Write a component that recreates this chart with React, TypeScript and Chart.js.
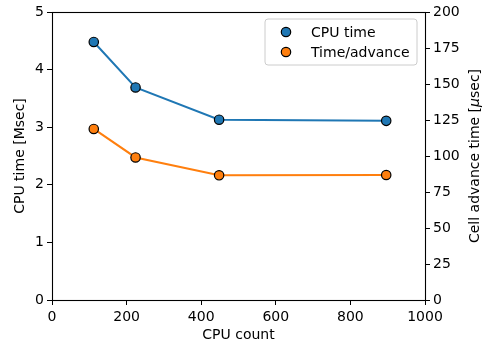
import React, { useEffect, useRef } from "react";
import { Chart, registerables } from "chart.js";

Chart.register(...registerables);

const cpuCounts = [112, 224, 448, 896];
const cpuTimeMsec = [4.48, 3.69, 3.13, 3.11];
const cellAdvanceUsec = [118.8, 99.0, 86.6, 86.8];
const legendLabels = ["CPU time", "Time/advance"];
const seriesColors = ["#1f77b4", "#ff7f0e"];

const FONT = "DejaVu Sans";

const framePlugin = {
  id: "frame",
  afterDatasetsDraw(chart: any) {
    const { ctx, chartArea: a } = chart;
    ctx.save();
    ctx.strokeStyle = "#000";
    ctx.lineWidth = 1.1;
    ctx.strokeRect(Math.round(a.left) + 0.5, Math.round(a.top) + 0.5, Math.round(a.right - a.left), Math.round(a.bottom - a.top));
    ctx.restore();
  },
  afterDraw(chart: any) {
    const { ctx, chartArea: a } = chart;
    // right axis title (reads bottom-to-top like matplotlib)
    ctx.save();
    ctx.translate(475, (a.top + a.bottom) / 2);
    ctx.rotate(-Math.PI / 2);
    ctx.fillStyle = "#000";
    ctx.textBaseline = "middle";
    const p1 = "Cell advance time [";
    const p2 = "\u03bc";
    const p3 = "sec]";
    ctx.font = `14px "${FONT}"`;
    const w1 = ctx.measureText(p1).width;
    const w3 = ctx.measureText(p3).width;
    ctx.font = `italic 14px "${FONT}"`;
    const w2 = ctx.measureText(p2).width;
    const total = w1 + w2 + w3;
    let x = -total / 2;
    ctx.textAlign = "left";
    ctx.font = `14px "${FONT}"`;
    ctx.fillText(p1, x, 0);
    x += w1;
    ctx.font = `italic 14px "${FONT}"`;
    ctx.fillText(p2, x, 0);
    x += w2;
    ctx.font = `14px "${FONT}"`;
    ctx.fillText(p3, x, 0);
    ctx.restore();

    // legend box
    ctx.save();
    const bx = 265, by = 19, bw = 152, bh = 46, r = 3;
    ctx.beginPath();
    ctx.moveTo(bx + r, by);
    ctx.lineTo(bx + bw - r, by);
    ctx.quadraticCurveTo(bx + bw, by, bx + bw, by + r);
    ctx.lineTo(bx + bw, by + bh - r);
    ctx.quadraticCurveTo(bx + bw, by + bh, bx + bw - r, by + bh);
    ctx.lineTo(bx + r, by + bh);
    ctx.quadraticCurveTo(bx, by + bh, bx, by + bh - r);
    ctx.lineTo(bx, by + r);
    ctx.quadraticCurveTo(bx, by, bx + r, by);
    ctx.closePath();
    ctx.fillStyle = "rgba(255,255,255,0.8)";
    ctx.fill();
    ctx.strokeStyle = "#cccccc";
    ctx.lineWidth = 1;
    ctx.stroke();
    legendLabels.forEach((lab, i) => {
      const cy = 32 + i * 20;
      ctx.beginPath();
      ctx.arc(286, cy, 4.7, 0, Math.PI * 2);
      ctx.fillStyle = seriesColors[i];
      ctx.fill();
      ctx.strokeStyle = "#000";
      ctx.lineWidth = 1.2;
      ctx.stroke();
      ctx.fillStyle = "#000";
      ctx.font = `14px "${FONT}"`;
      ctx.textAlign = "left";
      ctx.textBaseline = "middle";
      ctx.fillText(lab, 311, cy + 1);
    });
    ctx.restore();
  },
};

export default function App() {
  const ref = useRef<HTMLCanvasElement>(null);
  useEffect(() => {
    if (!ref.current) return;
    const tickFont = { family: FONT, size: 14 };
    const gridOpts = {
      display: true,
      drawOnChartArea: false,
      drawTicks: true,
      tickLength: 5,
      color: "#000",
      lineWidth: 1,
    };
    const chart = new Chart(ref.current, {
      type: "line",
      data: {
        datasets: [
          {
            label: legendLabels[0],
            data: cpuCounts.map((x, i) => ({ x, y: cpuTimeMsec[i] })),
            borderColor: seriesColors[0],
            backgroundColor: seriesColors[0],
            pointBackgroundColor: seriesColors[0],
            pointBorderColor: "#000",
            pointBorderWidth: 1.2,
            pointRadius: 4.7,
            borderWidth: 2,
            yAxisID: "y",
            tension: 0,
          },
          {
            label: legendLabels[1],
            data: cpuCounts.map((x, i) => ({ x, y: cellAdvanceUsec[i] })),
            borderColor: seriesColors[1],
            backgroundColor: seriesColors[1],
            pointBackgroundColor: seriesColors[1],
            pointBorderColor: "#000",
            pointBorderWidth: 1.2,
            pointRadius: 4.7,
            borderWidth: 2,
            yAxisID: "y2",
            tension: 0,
          },
        ],
      },
      options: {
        responsive: false,
        animation: false,
        layout: { padding: { top: 12, left: 0, right: 0, bottom: 0 } },
        plugins: { legend: { display: false }, tooltip: { enabled: false } },
        scales: {
          x: {
            type: "linear",
            min: 0,
            max: 1000,
            ticks: {
              stepSize: 200,
              color: "#000",
              font: tickFont,
              padding: 4,
              maxRotation: 0,
              callback: (v: any) => String(v),
            },
            grid: gridOpts,
            border: { display: false },
            title: { display: true, text: "CPU count", color: "#000", font: tickFont, padding: { top: 0, bottom: -2 } },
            afterFit: (s: any) => { s.height = 42; },
          },
          y: {
            type: "linear",
            position: "left",
            min: 0,
            max: 5,
            ticks: { stepSize: 1, color: "#000", font: tickFont, padding: 3 },
            grid: gridOpts,
            border: { display: false },
            title: { display: true, text: "CPU time [Msec]", color: "#000", font: tickFont, padding: { top: 12, bottom: 0 } },
            afterFit: (s: any) => { s.width = 52; },
          },
          y2: {
            type: "linear",
            position: "right",
            min: 0,
            max: 200,
            ticks: { stepSize: 25, color: "#000", font: tickFont, padding: 3 },
            grid: gridOpts,
            border: { display: false },
            afterFit: (s: any) => { s.width = 63; },
          },
        },
      } as any,
      plugins: [framePlugin],
    });
    return () => chart.destroy();
  }, []);
  return (
    <div style={{ position: "absolute", left: 0, top: 0, width: 488, height: 342, background: "#fff" }}>
      <canvas ref={ref} width={488} height={342} style={{ width: 488, height: 342, display: "block" }} />
    </div>
  );
}
